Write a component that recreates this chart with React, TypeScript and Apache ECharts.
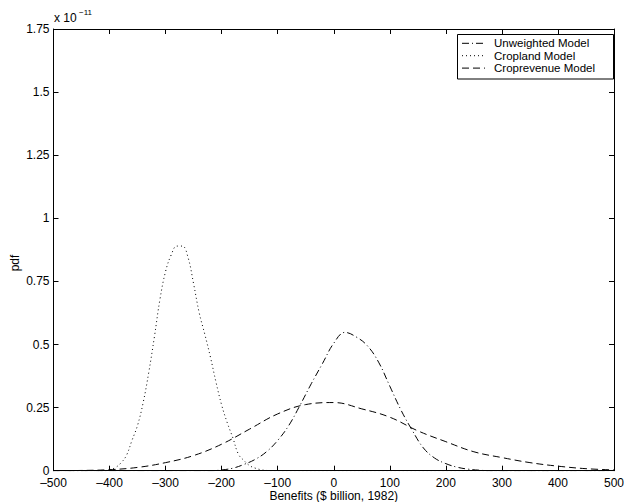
import React, { useEffect, useRef } from "react";
import * as echarts from "echarts";

// Unweighted Model (dash-dot), pdf in units of 1e-11
const uwX = [-500, -220, -200, -180, -160, -140, -120, -100, -80, -60, -40, -20, 0, 20, 40, 60, 80, 100, 120, 140, 160, 180, 200, 220, 240, 260, 280, 500];
const uwY = [0, 0, 0.003, 0.01, 0.025, 0.045, 0.075, 0.12, 0.18, 0.26, 0.345, 0.425, 0.505, 0.548, 0.53, 0.495, 0.43, 0.335, 0.24, 0.16, 0.09, 0.05, 0.028, 0.014, 0.006, 0.002, 0, 0];

// Cropland Model (dotted)
const clX = [-500, -410, -400, -390, -380, -370, -360, -350, -340, -330, -320, -310, -300, -290, -280, -270, -260, -250, -240, -230, -220, -210, -200, -190, -180, -170, -160, -150, -140, -130, -120, -110, 500];
const clY = [0, 0, 0.004, 0.012, 0.03, 0.06, 0.12, 0.18, 0.27, 0.39, 0.53, 0.68, 0.79, 0.855, 0.89, 0.89, 0.845, 0.74, 0.625, 0.54, 0.45, 0.35, 0.26, 0.19, 0.13, 0.065, 0.04, 0.02, 0.01, 0.004, 0.001, 0, 0];

// Croprevenue Model (dashed)
const crX = [-500, -450, -400, -350, -300, -250, -200, -150, -100, -50, 0, 50, 100, 150, 200, 250, 300, 350, 400, 450, 500];
const crY = [0, 0.001, 0.004, 0.013, 0.032, 0.06, 0.105, 0.165, 0.225, 0.262, 0.27, 0.245, 0.212, 0.158, 0.115, 0.075, 0.052, 0.032, 0.018, 0.008, 0.003];

const xTicks = { min: -500, max: 500, interval: 100 };
const yTicks = { min: 0, max: 1.75, interval: 0.25 };

const seriesNames = ["Unweighted Model", "Cropland Model", "Croprevenue Model"];
const dashes = [[7, 3, 1, 3], [1, 3], [7, 4]];

const FONT = "'Liberation Sans', Arial, Helvetica, sans-serif";

const zip = (xs: number[], ys: number[]) => xs.map((x, i) => [x, ys[i]]);

export default function App() {
  const ref = useRef<HTMLDivElement>(null);
  useEffect(() => {
    const chart = echarts.init(ref.current!, null, { renderer: "svg" });
    const L = 53.5, R = 614, T = 29, B = 470.7;
    const axisCommon = {
      axisLine: { show: true, onZero: false, lineStyle: { color: "#000", width: 1 } },
      axisTick: { show: true, inside: true, length: 5, lineStyle: { color: "#000", width: 1 } },
      splitLine: { show: false },
    };
    const legendRows = [43.3, 55.7, 68.1];
    const legendGraphics: any[] = [
      {
        type: "rect",
        shape: { x: 457.5, y: 34.5, width: 156, height: 44.5 },
        style: { fill: "#fff", stroke: "#000", lineWidth: 1 },
        z: 100,
      },
    ];
    seriesNames.forEach((name, i) => {
      legendGraphics.push({
        type: "line",
        shape: { x1: 462, y1: legendRows[i], x2: 485, y2: legendRows[i] },
        style: { stroke: "#000", lineWidth: 1, lineDash: dashes[i] },
        z: 101,
      });
      legendGraphics.push({
        type: "text",
        x: 494,
        y: legendRows[i],
        style: {
          text: name,
          fill: "#000",
          fontSize: 11.5,
          fontFamily: FONT,
          lineHeight: 11.5,
          verticalAlign: "middle",
          align: "left",
        },
        z: 101,
      });
    });
    chart.setOption({
      animation: false,
      backgroundColor: "#fff",
      textStyle: { fontFamily: FONT, fontSize: 12, color: "#000" },
      grid: { left: L, right: 624 - R, top: T, bottom: 502 - B, containLabel: false, outerBoundsMode: "none" },
      xAxis: [
        {
          type: "value",
          position: "bottom",
          ...xTicks,
          ...axisCommon,
          axisLabel: {
            margin: 6.5,
            color: "#000",
            fontSize: 12,
            lineHeight: 12,
            fontFamily: FONT,
            formatter: (v: number) => String(v).replace("-", "\u2013"),
          },
        },
        {
          type: "value",
          position: "top",
          ...xTicks,
          ...axisCommon,
          axisLabel: { show: false },
        },
      ],
      yAxis: [
        {
          type: "value",
          position: "left",
          ...yTicks,
          ...axisCommon,
          axisLabel: {
            margin: 4,
            color: "#000",
            fontSize: 12,
            lineHeight: 12,
            fontFamily: FONT,
            formatter: (v: number) => String(v),
          },
        },
        {
          type: "value",
          position: "right",
          ...yTicks,
          ...axisCommon,
          axisLabel: { show: false },
        },
      ],
      series: [
        { name: seriesNames[0], data: zip(uwX, uwY), dash: 0 },
        { name: seriesNames[1], data: zip(clX, clY), dash: 1 },
        { name: seriesNames[2], data: zip(crX, crY), dash: 2 },
      ].map((s) => ({
        type: "line",
        name: s.name,
        data: s.data,
        xAxisIndex: 0,
        yAxisIndex: 0,
        showSymbol: false,
        symbol: "none",
        smooth: 0.4,
        clip: true,
        lineStyle: { color: "#000", width: 1, type: dashes[s.dash] },
        z: 3,
      })),
      graphic: [
        {
          type: "text",
          x: 54,
          y: 18,
          style: { text: "x 10", fill: "#000", fontSize: 12, fontFamily: FONT, verticalAlign: "middle", align: "left" },
        },
        {
          type: "text",
          x: 79,
          y: 12,
          style: { text: "\u221211", fill: "#000", fontSize: 8, fontFamily: FONT, verticalAlign: "middle", align: "left" },
        },
        {
          type: "text",
          x: (L + R) / 2,
          y: 496,
          style: {
            text: "Benefits ($ billion, 1982)",
            fill: "#000",
            fontSize: 12,
            lineHeight: 12,
            fontFamily: FONT,
            verticalAlign: "middle",
            align: "center",
          },
        },
        {
          type: "text",
          x: 15,
          y: 263,
          rotation: Math.PI / 2,
          style: { text: "pdf", fill: "#000", fontSize: 12, fontFamily: FONT, verticalAlign: "middle", align: "center" },
        },
        ...legendGraphics,
      ],
    });
    return () => chart.dispose();
  }, []);
  return <div ref={ref} style={{ position: "absolute", left: 0, top: 0, width: 624, height: 502 }} />;
}
